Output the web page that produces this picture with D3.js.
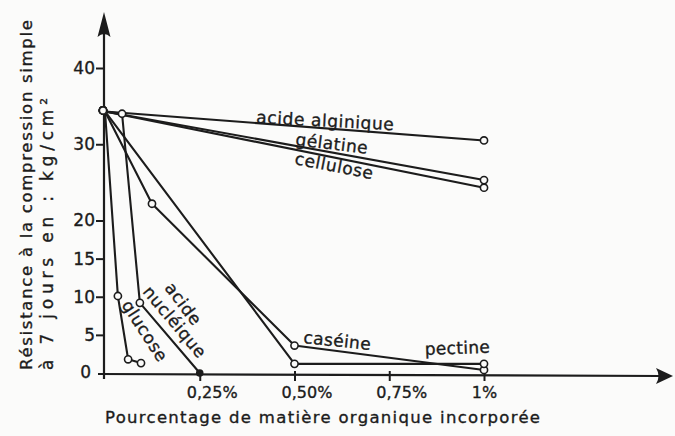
<!DOCTYPE html>
<html><head><meta charset="utf-8">
<script src="https://cdn.jsdelivr.net/npm/d3@7"></script>
<style>html,body{margin:0;padding:0;background:#fbfbfa;}svg{display:block;}</style>
</head><body>
<script>
// ---- data ----
const xTickValues = [0.25, 0.5, 0.75, 1];
const xTickLabels = ["0,25%", "0,50%", "0,75%", "1%"];
const yTickValues = [0, 5, 10, 15, 20, 30, 40];
const yTickLabels = ["0", "5", "10", "15", "20", "30", "40"];

const seriesNames = ["acide alginique", "gélatine", "cellulose", "caséine", "pectine", "acide nucléique", "glucose"];
const alginiqueX = [0, 1];            const alginiqueY = [34.3, 30.5];
const gelatineX = [0, 1];             const gelatineY = [34.3, 25.3];
const celluloseX = [0, 1];            const celluloseY = [34.3, 24.3];
const caseineX = [0, 0.124, 0.5, 1];  const caseineY = [34.3, 22.2, 3.6, 0.4];
const pectineX = [0, 0.5, 1];         const pectineY = [34.3, 1.2, 1.2];
const nucleiqueX = [0, 0.045, 0.092, 0.25]; const nucleiqueY = [34.3, 34.0, 9.2, 0];
const glucoseX = [0, 0.034, 0.061, 0.095];  const glucoseY = [34.3, 10.1, 1.8, 1.3];

const xLabel = "Pourcentage de matière organique incorporée";
const yLabel1 = "Résistance à la compression simple";
const yLabel2 = "à 7 jours en : kg/cm²";

// ---- chart ----
const W = 675, H = 436;
const ink = "#1c1c1c";
const font = "'DejaVu Sans', sans-serif";
const svg = d3.select("body").append("svg").attr("width", W).attr("height", H);
svg.append("rect").attr("width", W).attr("height", H).attr("fill", "#fbfbfa");

const x = d3.scaleLinear().domain([0, 1]).range([105, 484]);
const y = d3.scaleLinear().domain([0, 40]).range([373, 68]);

function styleText(sel, size) {
  return sel.attr("fill", ink).attr("stroke", ink).attr("stroke-width", 0.35)
    .attr("font-family", font).attr("font-size", size);
}

// axes lines with arrows
svg.append("line").attr("x1", x(0) - 1).attr("x2", x(0) - 1).attr("y1", 30).attr("y2", y(0) + 6)
  .attr("stroke", ink).attr("stroke-width", 2.2);
svg.append("path").attr("d", `M${x(0)-1},12 L${x(0)-7.5},37 Q${x(0)-1},31 ${x(0)+5.5},37 Z`).attr("fill", ink);
svg.append("line").attr("x1", x(0) - 7).attr("x2", 662).attr("y1", y(0) + 1).attr("y2", y(0) + 3)
  .attr("stroke", ink).attr("stroke-width", 2.2);
svg.append("path").attr("d", `M673,${y(0)+3} L656,${y(0)-5} Q661,${y(0)+3} 656,${y(0)+11} Z`).attr("fill", ink);

// y axis ticks via d3 axis
const yAxis = d3.axisLeft(y).tickValues(yTickValues.slice(1)).tickSize(8)
  .tickFormat((d) => yTickLabels[yTickValues.indexOf(d)]);
const gy = svg.append("g").attr("transform", `translate(${x(0) - 1},0)`).call(yAxis);
gy.select(".domain").remove();
gy.selectAll("line").attr("stroke", ink).attr("stroke-width", 2);
styleText(gy.selectAll("text"), 17).attr("x", -9);
styleText(svg.append("text"), 17).attr("x", 91).attr("y", y(0) + 5).attr("text-anchor", "end").text(yTickLabels[0]);

// x axis ticks
const xAxis = d3.axisBottom(x).tickValues(xTickValues).tickSize(7)
  .tickFormat((d) => xTickLabels[xTickValues.indexOf(d)]);
const gx = svg.append("g").attr("transform", `translate(0,${y(0) + 1})`).call(xAxis);
gx.select(".domain").remove();
gx.selectAll("line").attr("stroke", ink).attr("stroke-width", 2).attr("y1", -3);
styleText(gx.selectAll("text"), 16).attr("y", 13).attr("dx", (d) => d === 1 ? 0 : 12);

// series
const series = [
  [alginiqueX, alginiqueY], [gelatineX, gelatineY], [celluloseX, celluloseY],
  [caseineX, caseineY], [pectineX, pectineY], [nucleiqueX, nucleiqueY], [glucoseX, glucoseY]
];
const line = d3.line().x((d) => x(d[0])).y((d) => y(d[1]));
series.forEach(([xs, ys]) => {
  const pts = xs.map((v, i) => [v, ys[i]]);
  svg.append("path").datum(pts).attr("d", line).attr("fill", "none")
    .attr("stroke", ink).attr("stroke-width", 2.1).attr("stroke-linejoin", "round");
});
series.forEach(([xs, ys]) => {
  xs.forEach((v, i) => {
    const onAxis = ys[i] === 0;
    svg.append("circle").attr("cx", x(v) - (v === 0 ? 2 : 0)).attr("cy", y(ys[i]) - (v === 0 ? 1 : 0))
      .attr("r", onAxis ? 3 : 3.6)
      .attr("fill", onAxis ? ink : "#fbfbfa").attr("stroke", ink).attr("stroke-width", 1.6);
  });
});

// series labels
const labels = [
  {t: seriesNames[0], x: 256, y: 123, a: 3, ls: 0.6},
  {t: seriesNames[1], x: 295, y: 145, a: 7, ls: 0.5},
  {t: seriesNames[2], x: 294, y: 164, a: 11, ls: 0.6},
  {t: seriesNames[3], x: 303, y: 343, a: 6, ls: 0.4},
  {t: seriesNames[4], x: 425, y: 355, a: -2, ls: 0.3},
  {t: "acide", x: 164, y: 288, a: 53, ls: 0.6},
  {t: "nucléique", x: 142, y: 292, a: 50, ls: 0.6},
  {t: seriesNames[6], x: 121, y: 305, a: 57, ls: 0.6}
];
labels.forEach((l) => {
  styleText(svg.append("text"), 17).attr("transform", `translate(${l.x},${l.y}) rotate(${l.a})`)
    .attr("letter-spacing", l.ls).text(l.t);
});

// axis titles
styleText(svg.append("text"), 16.5).attr("x", 105).attr("y", 423)
  .attr("textLength", 435).attr("lengthAdjust", "spacing").text(xLabel);
styleText(svg.append("text"), 16.5).attr("transform", "translate(32,370) rotate(-90)")
  .attr("textLength", 350).attr("lengthAdjust", "spacing").text(yLabel1);
styleText(svg.append("text"), 17).attr("transform", "translate(53,370) rotate(-90)")
  .attr("textLength", 272).attr("lengthAdjust", "spacing").text(yLabel2);
</script>
</body></html>
